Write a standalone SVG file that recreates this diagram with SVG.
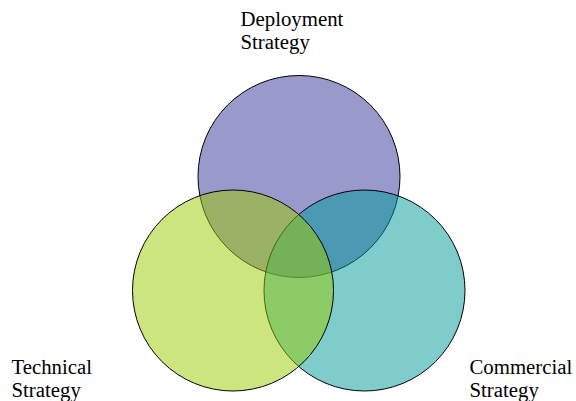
<svg xmlns="http://www.w3.org/2000/svg" width="576" height="401" viewBox="0 0 576 401">
  <style>
    .set { stroke: #000000; stroke-width: 1; fill-opacity: 0.5; }
    .label { font-family: "Liberation Serif", "Times New Roman", serif; font-size: 20.8px; fill: #000000; }
  </style>
  <rect width="576" height="401" fill="#ffffff"/>
  <!-- Sets are layered: deployment at the back, then commercial, then technical -->
  <g id="deployment">
    <circle class="set" cx="299" cy="176.5" r="101" fill="#333399"/>
  </g>
  <g id="commercial">
    <circle class="set" cx="364.5" cy="290.5" r="100.5" fill="#009999"/>
  </g>
  <g id="technical">
    <circle class="set" cx="233" cy="290.5" r="100.5" fill="#99CC00"/>
  </g>
  <g id="connectors"/>
  <g id="labels">
    <text class="label" x="240.5" y="26">Deployment</text>
    <text class="label" x="240.5" y="49">Strategy</text>
    <text class="label" x="11.5" y="374">Technical</text>
    <text class="label" x="11.5" y="397">Strategy</text>
    <text class="label" x="469.5" y="374">Commercial</text>
    <text class="label" x="469.5" y="397">Strategy</text>
  </g>
</svg>
